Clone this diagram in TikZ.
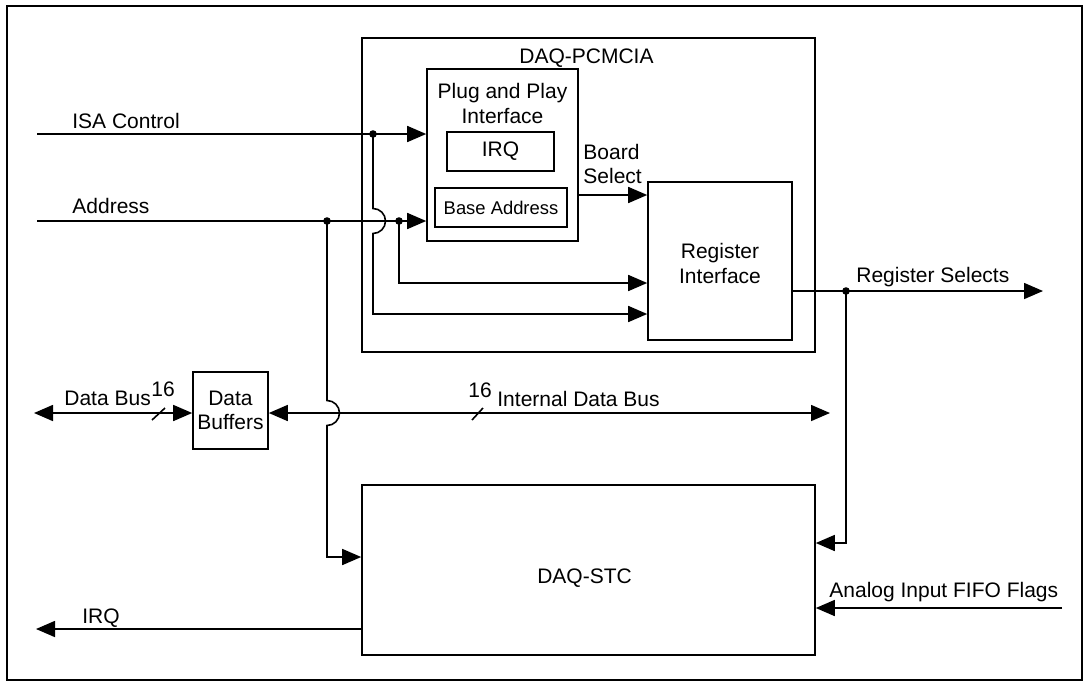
\documentclass[tikz,border=0pt]{standalone}
\usepackage{fontspec}
\setmainfont{Liberation Sans}
\usepackage{tikz}
\usetikzlibrary{positioning, arrows, arrows.meta}

\tikzset{
  blk/.style={draw, line width=0.8pt, inner sep=0pt},
  lbl/.style={inner sep=0pt, anchor=base west},
  mid/.style={inner sep=0pt, anchor=base},
  arr/.style={line width=0.8pt, -{Triangle[length=9.5pt,width=8pt]}},
  barr/.style={line width=0.8pt, {Triangle[length=9.5pt,width=8pt]}-{Triangle[length=9.5pt,width=8pt]}},
  wire/.style={line width=0.8pt},
  jdot/.style={fill, circle, inner sep=0pt, minimum size=3.8pt},
}

\begin{document}
\begin{tikzpicture}[x=0.5pt, y=0.5pt, font=\fontsize{10.5}{12}\selectfont]
\useasboundingbox (0,0) rectangle (1087,-687);
\draw[line width=1.3pt] (7,-6) rectangle (1082,-680);

% blocks
\node[blk, minimum width=226.5pt, minimum height=157pt] (pcmcia) at (588.5,-195) {};
\node[blk, minimum width=75.5pt, minimum height=86pt] (pnp) at (502.5,-155) {};
\node[blk, minimum width=53.5pt, minimum height=19.5pt] (irq) at (500.5,-151.5) {IRQ};
\node[blk, minimum width=66pt, minimum height=19.5pt, font=\fontsize{9.2}{11}\selectfont] (base) at (501,-207.5) {Base Address};
\node[blk, minimum width=72pt, minimum height=79pt] (regif) at (720,-261) {};
\node[blk, minimum width=37.5pt, minimum height=38.5pt, align=center] (buf) at (230.5,-410.5) {Data\\Buffers};
\node[blk, minimum width=226.5pt, minimum height=85pt] (stc) at (588.5,-570) {};

% block titles
\node[mid] at (586.5,-63) {DAQ-PCMCIA};
\node[mid] at (502.5,-98) {Plug and Play};
\node[mid] at (502.5,-123) {Interface};
\node[mid] at (720,-258) {Register};
\node[mid] at (720,-283) {Interface};
\node[mid] at (584.5,-583) {DAQ-STC};

% end points and junctions
\coordinate (isaL) at (37,-134);
\coordinate (addrL) at (37,-221);
\coordinate (irqL) at (36,-629);
\coordinate (dbL) at (34,-413);
\coordinate (ibR) at (830,-413);
\coordinate (rsR) at (1043,-291);
\coordinate (aiR) at (1062,-608);
\node[jdot] (isa) at (373,-134) {};
\node[jdot] (addrA) at (327,-221) {};
\node[jdot] (addrB) at (399,-221) {};
\node[jdot] (rsdot) at (846,-291) {};
\coordinate (hopA) at (373,-221);
\coordinate (hopB) at (327,-413);
\coordinate (isaturn) at (373,-314);
\coordinate (addrturn) at (399,-283);
\coordinate (stcturn) at (327,-557);
\coordinate (rsturn) at (846,-543);
\coordinate (bsel) at (578,-195);

% connections
\draw[wire] (isaL) -- (isa.center);
\draw[arr] (isa.center) -- (pnp.west |- isaL);
\draw[arr] (addrL) -- (pnp.west |- addrL);
\draw[arr] (isa.center) -- ([yshift=6.25pt]hopA) arc[start angle=90, end angle=-90, radius=6.25pt]
  -- (isaturn) -- (regif.west |- isaturn);
\draw[arr] (addrB.center) -- (addrturn) -- (regif.west |- addrturn);
\draw[arr] (bsel) -- (regif.west |- bsel);
\draw[arr] (regif.east |- rsR) -- (rsR);
\draw[arr] (rsdot.center) -- (rsturn) -- (stc.east |- rsturn);
\draw[arr] (aiR) -- (stc.east |- aiR);
\draw[arr] (stc.west |- irqL) -- (irqL);
\draw[barr] (dbL) -- (buf.west |- dbL);
\draw[barr] (buf.east |- ibR) -- (ibR);
\draw[arr] (addrA.center) -- ([yshift=6.25pt]hopB) arc[start angle=90, end angle=-90, radius=6.25pt]
  -- (stcturn) -- (stc.west |- stcturn);

% bus width marks
\coordinate (slA) at (158.5,-414);
\coordinate (slB) at (477.5,-414);
\draw[wire] ([shift={(-6.5,-6)}]slA) -- ([shift={(6.5,6)}]slA);
\draw[wire] ([shift={(-5.5,-6)}]slB) -- ([shift={(5.5,6)}]slB);

% labels
\node[lbl] at (72,-128) {ISA Control};
\node[lbl] at (72,-213) {Address};
\node[lbl] at (583,-159) {Board};
\node[lbl] at (583,-183) {Select};
\node[lbl] at (856,-282) {Register Selects};
\node[lbl] at (64,-405) {Data Bus};
\node[lbl] at (151,-396) {16};
\node[lbl] at (468,-397) {16};
\node[lbl] at (497,-406) {Internal Data Bus};
\node[lbl] at (82,-623) {IRQ};
\node[lbl] at (829,-597) {Analog Input FIFO Flags};
\end{tikzpicture}
\end{document}
